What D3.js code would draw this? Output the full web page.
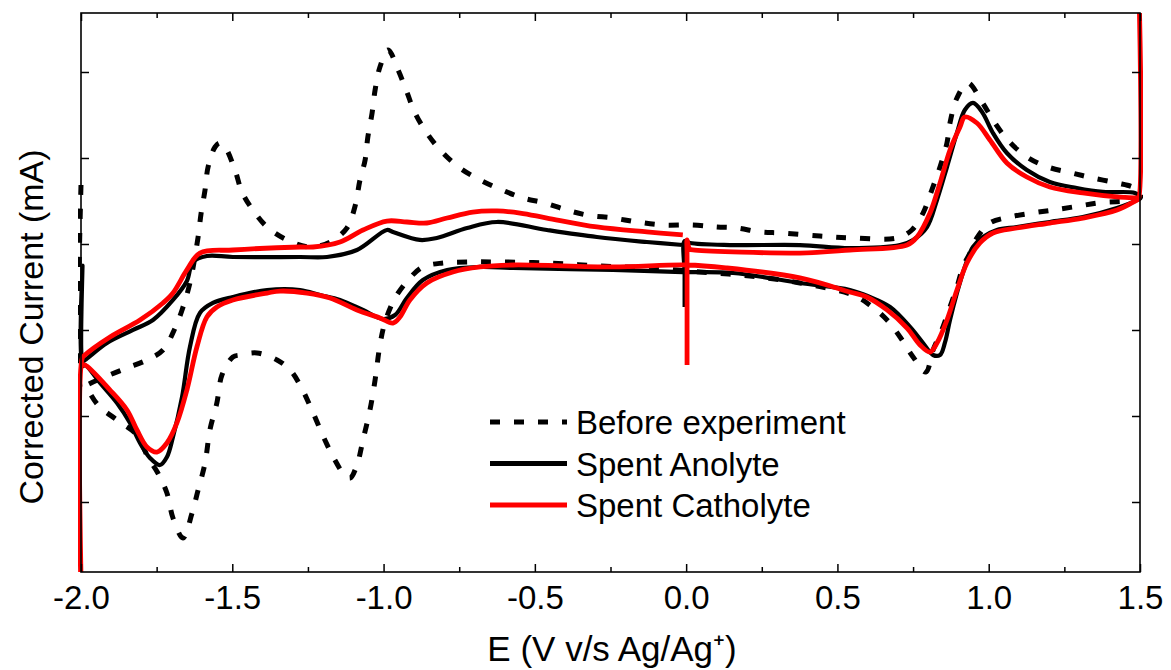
<!DOCTYPE html>
<html>
<head>
<meta charset="utf-8">
<script src="https://cdn.jsdelivr.net/npm/d3@7"></script>
<style>
body { margin: 0; background: #fff; }
text { font-family: "Liberation Sans", Arial, sans-serif; fill: #000; }
</style>
</head>
<body>
<script>
// Data: [E (V), current (mA)] in scan order
const beforeScan = [
  [-2.0, 0.686], [-2.0, -1.70], [-1.99, -1.66], [-1.914, -1.535], [-1.848, -1.442], [-1.782, -1.349],
  [-1.729, -1.233], [-1.689, -0.977], [-1.666, -0.767], [-1.64, -0.453], [-1.613, 0.081], [-1.603, 0.360],
  [-1.59, 0.628], [-1.58, 0.895], [-1.557, 1.128], [-1.541, 1.174], [-1.524, 1.128], [-1.491, 0.860],
  [-1.468, 0.605], [-1.432, 0.395], [-1.385, 0.198], [-1.319, 0.047], [-1.243, -0.035], [-1.177, 0.023],
  [-1.121, 0.186], [-1.095, 0.430], [-1.078, 0.744], [-1.061, 0.977], [-1.052, 1.244], [-1.038, 1.523],
  [-1.028, 1.791], [-1.012, 2.058], [-0.985, 2.256], [-0.952, 2.023], [-0.923, 1.767], [-0.896, 1.523],
  [-0.857, 1.291], [-0.807, 1.070], [-0.748, 0.884], [-0.681, 0.744], [-0.609, 0.628], [-0.539, 0.535],
  [-0.467, 0.477], [-0.394, 0.395], [-0.328, 0.337], [-0.242, 0.302], [-0.163, 0.256], [-0.077, 0.221],
  [0.022, 0.221], [0.102, 0.198], [0.168, 0.186], [0.244, 0.140], [0.317, 0.128], [0.442, 0.093],
  [0.551, 0.070], [0.697, 0.070], [0.746, 0.163], [0.783, 0.360], [0.812, 0.628], [0.839, 0.895],
  [0.862, 1.174], [0.872, 1.407], [0.895, 1.698], [0.931, 1.872], [0.978, 1.651], [1.014, 1.442],
  [1.063, 1.209], [1.126, 1.012], [1.196, 0.895], [1.275, 0.826], [1.344, 0.767], [1.424, 0.709],
  [1.476, 0.663], [1.5, 0.605],
  [1.5, 0.535], [1.361, 0.477], [1.278, 0.430], [1.212, 0.395], [1.143, 0.360], [1.07, 0.314],
  [1.004, 0.244], [0.961, 0.070], [0.938, -0.105], [0.915, -0.267], [0.895, -0.500], [0.872, -0.733],
  [0.845, -1.000], [0.816, -1.233], [0.792, -1.488], [0.75, -1.314], [0.707, -1.081], [0.664, -0.884],
  [0.607, -0.709], [0.551, -0.593], [0.376, -0.453], [0.211, -0.372], [0.046, -0.326], [-0.12, -0.279],
  [-0.285, -0.256], [-0.45, -0.221], [-0.615, -0.209], [-0.724, -0.209], [-0.804, -0.221], [-0.87, -0.267],
  [-0.913, -0.395], [-0.962, -0.628], [-0.995, -0.907], [-1.012, -1.174], [-1.028, -1.581], [-1.045, -1.930],
  [-1.068, -2.279], [-1.088, -2.570], [-1.111, -2.721], [-1.134, -2.663], [-1.161, -2.512], [-1.194, -2.279],
  [-1.237, -1.930], [-1.276, -1.640], [-1.309, -1.465], [-1.352, -1.349], [-1.418, -1.267], [-1.475, -1.291],
  [-1.498, -1.314], [-1.534, -1.523], [-1.551, -1.849], [-1.574, -2.163], [-1.59, -2.547], [-1.613, -2.860],
  [-1.633, -3.128], [-1.663, -3.419], [-1.696, -3.186], [-1.716, -2.895], [-1.746, -2.663], [-1.779, -2.477],
  [-1.815, -2.221], [-1.881, -2.047], [-1.944, -1.872], [-1.98, -1.674]
];

const anolyteScan = [
  [-0.005, -0.733], [-0.005, -0.35], [-0.005, 0.035], [0.013, 0.012], [0.145, -0.012], [0.376, -0.012], [0.541, -0.047],
  [0.707, -0.012], [0.75, 0.047], [0.796, 0.198], [0.829, 0.512], [0.862, 0.895], [0.895, 1.291],
  [0.921, 1.558], [0.948, 1.640], [0.978, 1.535], [1.014, 1.291], [1.06, 1.058], [1.126, 0.860],
  [1.202, 0.721], [1.291, 0.651], [1.377, 0.605], [1.483, 0.593], [1.5, 0.547],
  [1.49, 0.512], [1.424, 0.419], [1.311, 0.314], [1.202, 0.256], [1.093, 0.198], [1.027, 0.163],
  [0.981, 0.081], [0.948, -0.035], [0.921, -0.267], [0.895, -0.570], [0.872, -0.884], [0.855, -1.151],
  [0.839, -1.291], [0.816, -1.291], [0.783, -1.151], [0.74, -0.965], [0.674, -0.733], [0.607, -0.616],
  [0.541, -0.535], [0.376, -0.453], [0.155, -0.337], [-0.011, -0.326], [-0.242, -0.302], [-0.572, -0.279],
  [-0.681, -0.267], [-0.79, -0.302], [-0.87, -0.419], [-0.923, -0.628], [-0.962, -0.826], [-1.002, -0.872],
  [-1.068, -0.767], [-1.144, -0.651], [-1.21, -0.593], [-1.276, -0.535], [-1.385, -0.535], [-1.498, -0.616],
  [-1.564, -0.686], [-1.607, -0.802], [-1.64, -1.198], [-1.666, -1.779], [-1.696, -2.244], [-1.716, -2.477],
  [-1.739, -2.570], [-1.772, -2.488], [-1.805, -2.314], [-1.838, -2.081], [-1.881, -1.849], [-1.937, -1.616],
  [-1.987, -1.407],
  [-1.995, -1.42], [-1.995, -0.25], [-1.993, -1.36],
  [-1.987, -1.349], [-1.914, -1.151], [-1.828, -1.000], [-1.762, -0.884], [-1.696, -0.651], [-1.65, -0.430],
  [-1.63, -0.209], [-1.584, -0.140], [-1.498, -0.151], [-1.276, -0.151], [-1.187, -0.151], [-1.088, -0.070],
  [-0.989, 0.163], [-0.969, 0.140], [-0.88, 0.047], [-0.824, 0.070], [-0.724, 0.186], [-0.625, 0.256],
  [-0.46, 0.163], [-0.295, 0.081], [-0.13, 0.023], [-0.011, -0.012]
];

const catholyteScan = [
  [0.003, -1.407], [0.003, -0.6], [0.003, -0.1], [0.003, 0.047], [0.012, -0.060], [0.029, -0.070], [0.376, -0.105], [0.541, -0.070], [0.73, -0.012],
  [0.763, 0.081], [0.806, 0.360], [0.839, 0.709], [0.872, 1.093], [0.905, 1.360], [0.921, 1.477],
  [0.961, 1.407], [1.004, 1.209], [1.06, 0.942], [1.126, 0.779], [1.202, 0.663], [1.311, 0.593],
  [1.424, 0.547], [1.49, 0.535],
  [1.495, 0.53], [1.495, 3.2], [1.495, 0.52],
  [1.49, 0.512], [1.424, 0.395], [1.311, 0.302], [1.202, 0.244], [1.093, 0.186], [1.014, 0.128],
  [0.971, 0.012], [0.928, -0.221], [0.895, -0.535], [0.862, -0.884], [0.829, -1.151], [0.806, -1.256],
  [0.773, -1.174], [0.73, -0.977], [0.664, -0.767], [0.597, -0.616], [0.541, -0.558], [0.376, -0.395],
  [0.135, -0.279], [0.003, -0.244], [-0.242, -0.267], [-0.572, -0.244], [-0.681, -0.267], [-0.771, -0.326],
  [-0.857, -0.453], [-0.913, -0.651], [-0.946, -0.849], [-0.969, -0.919], [-1.012, -0.860], [-1.088, -0.767],
  [-1.177, -0.628], [-1.253, -0.570], [-1.342, -0.547], [-1.385, -0.570], [-1.498, -0.651], [-1.551, -0.733],
  [-1.584, -0.849], [-1.617, -1.198], [-1.65, -1.698], [-1.683, -2.081], [-1.716, -2.314], [-1.749, -2.419],
  [-1.782, -2.360], [-1.815, -2.163], [-1.848, -1.930], [-1.904, -1.698], [-1.987, -1.407],
  [-1.996, -1.41], [-1.996, -4.5], [-1.996, -1.33],
  [-1.987, -1.291], [-1.904, -1.081], [-1.805, -0.884], [-1.729, -0.686], [-1.696, -0.570], [-1.65, -0.302],
  [-1.607, -0.105], [-1.498, -0.070], [-1.276, -0.035], [-1.233, -0.035], [-1.144, 0.023], [-1.068, 0.163],
  [-0.989, 0.267], [-0.923, 0.256], [-0.857, 0.244], [-0.79, 0.302], [-0.705, 0.372], [-0.625, 0.384],
  [-0.549, 0.360], [-0.46, 0.302], [-0.295, 0.198], [-0.13, 0.140], [-0.011, 0.105]
];

const seriesNames = ["Before experiment", "Spent Anolyte", "Spent Catholyte"];
const xMajorTicks = [-2.0, -1.5, -1.0, -0.5, 0.0, 0.5, 1.0, 1.5];
const xTickLabels = ["-2.0", "-1.5", "-1.0", "-0.5", "0.0", "0.5", "1.0", "1.5"];
const xMinorTicks = [-1.75, -1.25, -0.75, -0.25, 0.25, 0.75, 1.25];
const yTicks = [-3, -2, -1, 0, 1, 2];

// Dimensions
const margin = { top: 13, right: 31, bottom: 98, left: 81 };
const width = 1171 - margin.left - margin.right;
const height = 670 - margin.top - margin.bottom;

const svg = d3.select("body")
    .append("svg")
    .attr("width", 1171)
    .attr("height", 670);

const g = svg.append("g")
    .attr("transform", `translate(${margin.left},${margin.top})`);

const xScale = d3.scaleLinear().domain([-2, 1.5]).range([0, width]);
const yScale = d3.scaleLinear().domain([-3.814, 2.686]).range([height, 0]);

// clip curves to the frame (spikes run off the plot)
svg.append("defs").append("clipPath")
    .attr("id", "plotClip")
    .append("rect")
    .attr("x", -3).attr("y", 0)
    .attr("width", width + 6).attr("height", height);

const line = d3.line()
    .x(d => xScale(d[0]))
    .y(d => yScale(d[1]))
    .curve(d3.curveCatmullRom.alpha(0.5));

const curves = g.append("g").attr("clip-path", "url(#plotClip)");

curves.append("path")
    .datum(beforeScan)
    .attr("fill", "none")
    .attr("stroke", "#000")
    .attr("stroke-width", 5)
    .attr("stroke-dasharray", "10,14")
    .attr("d", line);

curves.append("path")
    .datum(anolyteScan)
    .attr("fill", "none")
    .attr("stroke", "#000")
    .attr("stroke-width", 4.2)
    .attr("stroke-linejoin", "round")
    .attr("d", line);

curves.append("path")
    .datum(catholyteScan)
    .attr("fill", "none")
    .attr("stroke", "#ff0000")
    .attr("stroke-width", 4.8)
    .attr("stroke-linejoin", "round")
    .attr("d", line);

// Axes (ticks point inward)
function styleAxis(sel) {
    sel.select(".domain").remove();
    sel.selectAll(".tick line").attr("stroke", "#000").attr("stroke-width", 1.5);
}

g.append("g")
    .attr("transform", `translate(0,${height})`)
    .call(d3.axisBottom(xScale).tickValues(xMajorTicks).tickSize(-8).tickPadding(14)
        .tickFormat((d, i) => xTickLabels[i]))
    .call(styleAxis)
    .selectAll("text")
    .style("font-size", "33px")
    .style("font-family", "'Liberation Sans', Arial, sans-serif")
    .attr("fill", "#000");

g.append("g")
    .attr("transform", `translate(0,${height})`)
    .call(d3.axisBottom(xScale).tickValues(xMinorTicks).tickSize(-5).tickFormat(""))
    .call(styleAxis);

g.append("g")
    .call(d3.axisTop(xScale).tickValues(xMajorTicks).tickSize(-8).tickFormat(""))
    .call(styleAxis);

g.append("g")
    .call(d3.axisTop(xScale).tickValues(xMinorTicks).tickSize(-5).tickFormat(""))
    .call(styleAxis);

g.append("g")
    .call(d3.axisLeft(yScale).tickValues(yTicks).tickSize(-8).tickFormat(""))
    .call(styleAxis);

g.append("g")
    .attr("transform", `translate(${width},0)`)
    .call(d3.axisRight(yScale).tickValues(yTicks).tickSize(-8).tickFormat(""))
    .call(styleAxis);

// Frame
g.append("rect")
    .attr("width", width)
    .attr("height", height)
    .attr("fill", "none")
    .attr("stroke", "#000")
    .attr("stroke-width", 1.6);

// Axis titles
svg.append("text")
    .attr("x", 612)
    .attr("y", 661)
    .attr("text-anchor", "middle")
    .style("font-size", "35px")
    .text("E (V v/s Ag/Ag\u207A)");

svg.append("text")
    .attr("transform", "translate(43,327) rotate(-90)")
    .attr("text-anchor", "middle")
    .style("font-size", "34px")
    .text("Corrected Current (mA)");

// Legend
const legendStyles = [
    { stroke: "#000", width: 5, dash: "10,14" },
    { stroke: "#000", width: 5, dash: null },
    { stroke: "#ff0000", width: 5, dash: null }
];

const legend = svg.append("g").attr("transform", "translate(490,422)");

const item = legend.selectAll("g")
    .data(seriesNames)
    .enter()
    .append("g")
    .attr("transform", (d, i) => `translate(0,${i * 41.5})`);

item.append("line")
    .attr("x1", 0).attr("x2", 77)
    .attr("y1", 0).attr("y2", 0)
    .attr("stroke", (d, i) => legendStyles[i].stroke)
    .attr("stroke-width", (d, i) => legendStyles[i].width)
    .attr("stroke-dasharray", (d, i) => legendStyles[i].dash);

item.append("text")
    .attr("x", 86)
    .attr("y", 12)
    .style("font-size", "33px")
    .text(d => d);
</script>
</body>
</html>
